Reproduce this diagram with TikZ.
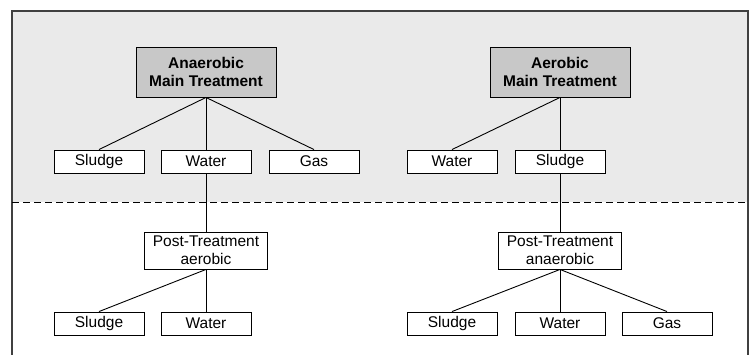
\documentclass[tikz,border=0pt]{standalone}
\usepackage{fontspec}
\setmainfont{Liberation Sans}
\begin{document}
\begin{tikzpicture}[x=1pt,y=-1pt,
  outbox/.style={draw=black,line width=0.9pt,fill=white,minimum width=90pt,minimum height=23pt,inner sep=0pt,font=\fontsize{15.5}{18}\selectfont},
  mainbox/.style={draw=black,line width=0.9pt,fill=mainfill,minimum width=140pt,minimum height=50pt,inner sep=0pt,align=center,font=\fontsize{15.5}{18}\selectfont\bfseries},
  postbox/.style={draw=black,line width=0.9pt,fill=white,minimum width=123pt,minimum height=37pt,inner sep=0pt,align=center,font=\fontsize{15.5}{18}\selectfont},
  conn/.style={draw=black,line width=0.9pt}]
\definecolor{mainfill}{HTML}{C8C8C8}
\definecolor{bgfill}{HTML}{EAEAEA}
\definecolor{framec}{HTML}{404040}
\useasboundingbox (0,0) rectangle (755,354);
\fill[bgfill] (12,11) rectangle (748,202);
\draw[framec,line width=1.3pt] (12,356) -- (12,11) -- (748,11) -- (748,356);
\draw[black,line width=0.9pt,dash pattern=on 7pt off 4pt] (12,202) -- (748,202);
% left top
\node[mainbox] (anmain) at (206,72) {Anaerobic\\Main Treatment};
\node[outbox] (ls1) at (99,161.5) {Sludge};
\node[outbox] (lw1) at (206,161.5) {Water};
\node[outbox] (lg1) at (314,161.5) {Gas};
% right top
\node[mainbox] (aemain) at (560,72) {Aerobic\\Main Treatment};
\node[outbox] (rw1) at (452,161.5) {Water};
\node[outbox] (rs1) at (560,161.5) {Sludge};
% left bottom
\node[postbox] (lpost) at (206,250.5) {Post-Treatment\\aerobic};
\node[outbox] (ls2) at (99,323.5) {Sludge};
\node[outbox] (lw2) at (206,323.5) {Water};
% right bottom
\node[postbox] (rpost) at (560,250.5) {Post-Treatment\\anaerobic};
\node[outbox] (rs2) at (452,323.5) {Sludge};
\node[outbox] (rw2) at (560,323.5) {Water};
\node[outbox] (rg2) at (667,323.5) {Gas};
% connectors
\draw[conn] (anmain.south) -- (ls1.north);
\draw[conn] (anmain.south) -- (lw1.north);
\draw[conn] (anmain.south) -- (lg1.north);
\draw[conn] (aemain.south) -- (rw1.north);
\draw[conn] (aemain.south) -- (rs1.north);
\draw[conn] (lw1.south) -- (lpost.north);
\draw[conn] (rs1.south) -- (rpost.north);
\draw[conn] (lpost.south) -- (ls2.north);
\draw[conn] (lpost.south) -- (lw2.north);
\draw[conn] (rpost.south) -- (rs2.north);
\draw[conn] (rpost.south) -- (rw2.north);
\draw[conn] (rpost.south) -- (rg2.north);
\end{tikzpicture}
\end{document}
